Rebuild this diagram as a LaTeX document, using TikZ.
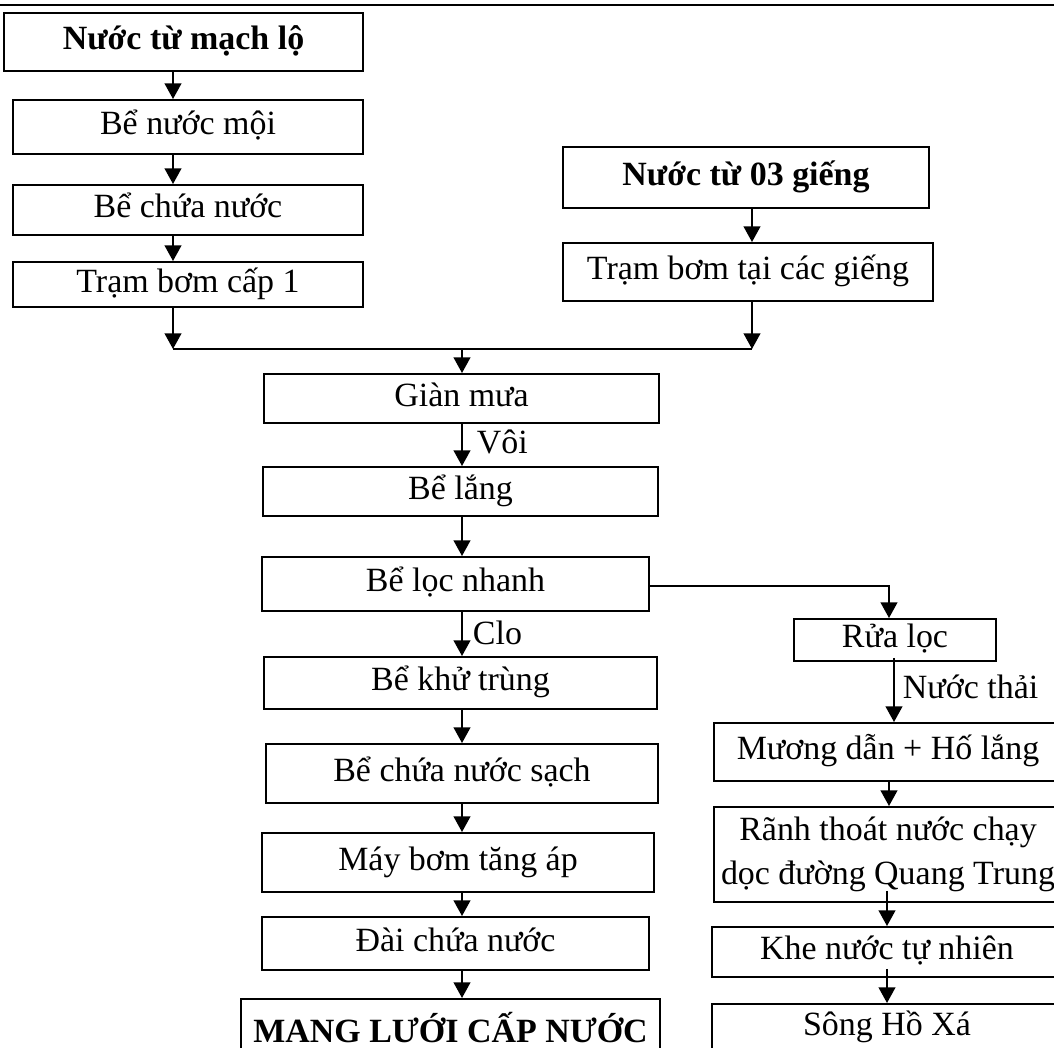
\documentclass[tikz,border=0pt]{standalone}
\usepackage{fontspec}
\setmainfont{Liberation Serif}
\usetikzlibrary{arrows.meta}
\newdimen\pxl
\pxl=0.383pt
\tikzset{>={Triangle[width=6.4pt,length=6pt]}}
\tikzset{box/.style={draw, line width=0.75pt, inner sep=0pt, text height=9pt, text depth=3pt, font=\fontsize{13}{17}\selectfont},
  boxbf/.style={box, font=\fontsize{13}{17}\selectfont\bfseries},
  lbl/.style={inner sep=0pt, anchor=west, font=\fontsize{13}{17}\selectfont}}

\begin{document}
\begin{tikzpicture}[x=0.383pt, y=-0.383pt, line width=0.75pt]
\useasboundingbox (0,0) rectangle (1054,1048);
\clip (0,0) rectangle (1054,1048);
\draw[line width=1pt] (0,5) -- (1054,5);

% cot trai
\node[boxbf, minimum width=359\pxl, minimum height=58\pxl] (mach) at (183.5,42) {Nước từ mạch lộ};
\node[box, minimum width=350\pxl, minimum height=54\pxl] (moi) at (188,127) {Bể nước mội};
\node[box, minimum width=350\pxl, minimum height=50\pxl] (chua) at (188,210) {Bể chứa nước};
\node[box, minimum width=350\pxl, minimum height=45\pxl] (tram1) at (188,284.5) {Trạm bơm cấp 1};

% cot gieng
\node[boxbf, minimum width=366\pxl, minimum height=61\pxl] (gieng) at (746,177.5) {Nước từ 03 giếng};
\node[box, minimum width=370\pxl, minimum height=58\pxl] (tramg) at (748,272) {Trạm bơm tại các giếng};

% cot giua
\node[box, minimum width=395\pxl, minimum height=49\pxl] (gian) at (461.5,398.5) {Giàn mưa};
\node[box, minimum width=395\pxl, minimum height=49\pxl] (lang) at (460.5,491.5) {Bể lắng};
\node[box, minimum width=387\pxl, minimum height=54\pxl] (locn) at (455.5,584) {Bể lọc nhanh};
\node[box, minimum width=393\pxl, minimum height=52\pxl] (khu) at (460.5,683) {Bể khử trùng};
\node[box, minimum width=392\pxl, minimum height=59\pxl] (sach) at (462,773.5) {Bể chứa nước sạch};
\node[box, minimum width=392\pxl, minimum height=59\pxl] (maybom) at (458,862.5) {Máy bơm tăng áp};
\node[box, minimum width=387\pxl, minimum height=53\pxl] (dai) at (455.5,943.5) {Đài chứa nước};
\node[boxbf, anchor=north, minimum width=419\pxl, text height=44\pxl, text depth=30\pxl] (mang) at (450.5,998) {MANG LƯỚI CẤP NƯỚC};

% cot phai
\node[box, minimum width=202\pxl, minimum height=42\pxl] (rua) at (895,640) {Rửa lọc};
\node[box, minimum width=348\pxl, minimum height=58\pxl] (muong) at (888,752) {Mương dẫn + Hố lắng};
\node[box, align=center, text height={}, text depth={}, minimum width=348\pxl, minimum height=95\pxl] (ranh) at (888,854.5) {Rãnh thoát nước chạy\\dọc đường Quang Trung};
\node[box, minimum width=350\pxl, minimum height=50\pxl] (khe) at (887,952) {Khe nước tự nhiên};
\node[box, anchor=north, minimum width=350\pxl, text height=32\pxl, text depth=30\pxl] (song) at (887,1003) {Sông Hồ Xá};

% diem re nhanh
\coordinate (jl) at (173,349);
\coordinate (jr) at (752,349);
\coordinate (jm) at (462,349);
\coordinate (rc) at (889,586);

\draw[->] (mach.south -| jl) -- (moi.north -| jl);
\draw[->] (moi.south -| jl) -- (chua.north -| jl);
\draw[->] (chua.south -| jl) -- (tram1.north -| jl);
\draw[->] (tram1.south -| jl) -- (jl);
\draw[->] (gieng.south -| jr) -- (tramg.north -| jr);
\draw[->] (tramg.south -| jr) -- (jr);
\draw (jl) -- (jr);
\draw[->] (jm) -- (gian.north -| jm);

\draw[->] (gian.south -| jm) -- (lang.north -| jm);
\node[lbl] (voi) at (476,442) {Vôi};
\draw[->] (lang.south -| jm) -- (locn.north -| jm);
\draw[->] (locn.south -| jm) -- (khu.north -| jm);
\node[lbl] (clo) at (472,633) {Clo};
\draw[->] (khu.south -| jm) -- (sach.north -| jm);
\draw[->] (sach.south -| jm) -- (maybom.north -| jm);
\draw[->] (maybom.south -| jm) -- (dai.north -| jm);
\draw[->] (dai.south -| jm) -- (mang.north -| jm);

\draw[->] (locn.east |- rc) -- (rc) -- (rua.north -| rc);
\draw[->, shorten <=-4\pxl] (rua.south -| 894,0) -- (muong.north -| 894,0);
\node[lbl] (thai) at (902,687) {Nước thải};
\draw[->] (muong.south -| rc) -- (ranh.north -| rc);
\draw[->, shorten <=-12\pxl] (ranh.south -| 887,0) -- (khe.north -| 887,0);
\draw[->, shorten <=-9\pxl] (khe.south -| 887,0) -- (song.north -| 887,0);
\end{tikzpicture}
\end{document}
